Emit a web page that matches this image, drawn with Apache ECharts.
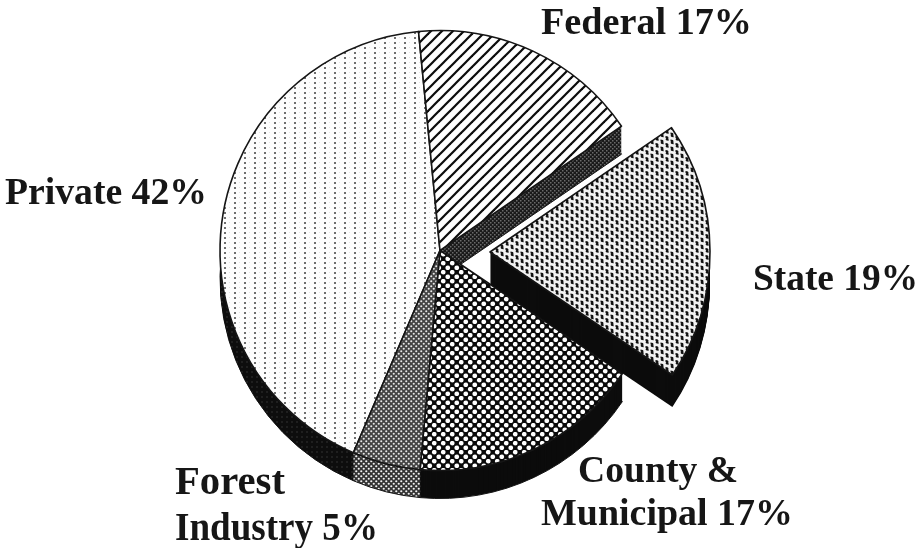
<!DOCTYPE html>
<html><head><meta charset="utf-8">
<style>html,body{margin:0;padding:0;background:#fff}#c{width:919px;height:548px;filter:blur(0.45px)}</style>
<script src="https://cdn.jsdelivr.net/npm/echarts@6/dist/echarts.min.js"></script>
</head><body><div id="c"></div>
<script>
const categories = ['Private', 'Federal', 'State', 'County & Municipal', 'Forest Industry'];
const shares = [42, 17, 19, 17, 5];
const explodedCategory = 'State';
const labelLines = ['Federal 17%', 'Private 42%', 'State 19%', 'County &', 'Municipal 17%', 'Forest', 'Industry 5%'];
const labelBoxes = [[541,24,211,38],[5,194,202,38],[753,280,165,38],[578,472,160,38],[541,515,252,38],[175,483,110,41],[175,529,203,41]];

function tile(w, h, bg, draw) {
  const c = document.createElement('canvas'); c.width = w; c.height = h;
  const x = c.getContext('2d'); x.fillStyle = bg; x.fillRect(0, 0, w, h); draw(x); return c;
}
function dot(x, px, py, r, col) { x.fillStyle = col; x.beginPath(); x.arc(px, py, r, 0, 7); x.fill(); }
const pat = c => ({ image: c, repeat: 'repeat' });

const topFaces = [
  pat(tile(10, 5, '#fdfdfd', x => { x.fillStyle = '#6e6e6e'; x.fillRect(4, 2, 2, 2); x.fillStyle = '#e4e4e4'; x.fillRect(9, 2, 1, 1); })),
  pat(tile(11, 11, '#fff', x => {
    x.strokeStyle = '#0c0c0c'; x.lineWidth = 2.2;
    [[-11,11,11,-11],[0,11,11,0],[0,22,22,0]].forEach(l => { x.beginPath(); x.moveTo(l[0], l[1]); x.lineTo(l[2], l[3]); x.stroke(); });
  })),
  pat(tile(10, 7, '#f2f2f2', x => {
    x.strokeStyle = '#111'; x.lineWidth = 1.9;
    [[0,0],[5,3.5],[-5,3.5],[5,-3.5],[10,0],[0,7],[10,7]].forEach(o => {
      x.beginPath(); x.moveTo(o[0]+0.5, o[1]+0.5); x.quadraticCurveTo(o[0]+3.5, o[1]+0.5, o[0]+2, o[1]+2); x.quadraticCurveTo(o[0]+0.8, o[1]+3.4, o[0]+3.6, o[1]+3.3); x.stroke();
    });
  })),
  pat(tile(9, 9, '#0a0a0a', x => {
    [[2.25,2.25],[6.75,6.75],[-2.25,6.75],[11.25,2.25],[2.25,11.25],[6.75,-2.25]].forEach(p => dot(x, p[0], p[1], 2.35, '#fff'));
  })),
  pat(tile(5, 5, '#444', x => { dot(x, 1.25, 1.25, 1.05, '#e8e8e8'); dot(x, 3.75, 3.75, 1.05, '#e8e8e8'); }))
];
const sideFaces = [
  pat(tile(5, 5, '#0d0d0d', x => { x.fillStyle = '#1f1f1f'; x.fillRect(1, 1, 2, 2); })),
  pat(tile(4, 4, '#1a1a1a', x => { x.fillStyle = '#6a6a6a'; x.fillRect(0, 0, 1.5, 1.5); x.fillRect(2, 2, 1.5, 1.5); })),
  '#0c0c0c',
  '#0c0c0c',
  pat(tile(5, 5, '#333', x => { dot(x, 1.25, 1.25, 1.1, '#f2f2f2'); dot(x, 3.75, 3.75, 1.1, '#f2f2f2'); }))
];

const center = [440, 250.5], explodedCenter = [490, 252], radius = 220, depth = 28, explodedDepth = 32;

function layer(c, dy, faces, border, keep) {
  return {
    type: 'pie', silent: true, animation: false, clockwise: true, startAngle: 246.8,
    center: [c[0], c[1] + dy], radius: [0, radius],
    label: { show: false }, labelLine: { show: false },
    data: categories.map((name, i) => {
      const on = keep(name);
      return { name, value: shares[i],
        itemStyle: on ? { color: faces[i], borderWidth: border, borderColor: '#151515' }
                      : { color: 'rgba(0,0,0,0)', borderWidth: 0 } };
    })
  };
}
const main = n => n !== explodedCategory, out = n => n === explodedCategory;
const series = [];
for (let d = depth; d >= 1; d--) series.push(layer(center, d, sideFaces, d === depth ? 1 : 0, main));
series.push(layer(center, 0, topFaces, 1.6, main));
for (let d = explodedDepth; d >= 1; d--) series.push(layer(explodedCenter, d, sideFaces, 0, out));
series.push(layer(explodedCenter, 0, topFaces, 1.6, out));

const chart = echarts.init(document.getElementById('c'), null, { width: 919, height: 548, renderer: 'canvas' });
const mctx = document.createElement('canvas').getContext('2d');
chart.setOption({
  backgroundColor: '#fff', animation: false, series,
  graphic: labelLines.map((text, i) => {
    const b = labelBoxes[i];
    const font = 'bold ' + b[3] + 'px "Liberation Serif"';
    mctx.font = font;
    return { type: 'text', x: b[0], y: b[1], scaleX: b[2] / mctx.measureText(text).width,
      style: { text, font, fill: '#161616', textAlign: 'left', textVerticalAlign: 'middle' } };
  })
});
</script></body></html>
